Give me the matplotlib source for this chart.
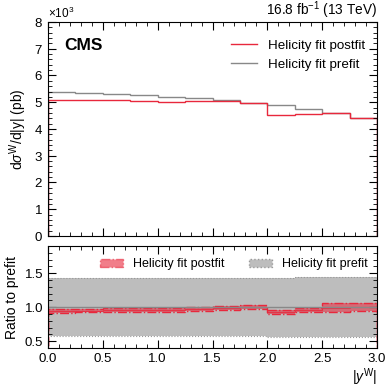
import numpy as np
import matplotlib
matplotlib.use('Agg')
from matplotlib import pyplot as plt
from matplotlib import ticker
from matplotlib.patches import Patch

plt.rcParams['font.family'] = ['Liberation Sans', 'DejaVu Sans']
plt.rcParams['mathtext.fontset'] = 'custom'
plt.rcParams['mathtext.rm'] = 'Liberation Sans'
plt.rcParams['mathtext.it'] = 'Liberation Sans:italic'

# bin edges in |y^W|
edges = np.arange(0, 3.01, 0.25)

# cross sections in pb
prefit = [5390, 5350, 5310, 5260, 5200, 5140, 5070, 4975, 4886, 4760, 4610, 4420]
postfit = [5090, 5090, 5090, 5040, 5000, 5040, 5030, 4960, 4540, 4550, 4590, 4410]

# relative uncertainties
prefit_unc = [0.43, 0.43, 0.43, 0.43, 0.43, 0.43, 0.43, 0.43, 0.435, 0.44, 0.445, 0.445]
postfit_unc = [0.03, 0.03, 0.03, 0.03, 0.03, 0.03, 0.03, 0.03, 0.035, 0.035, 0.06, 0.06]

red = '#e8283c'
grey = '#888888'

prefit = np.array(prefit)
postfit = np.array(postfit)
ratio = postfit / prefit

fig = plt.figure(figsize=(3.91, 3.88), dpi=100)
ax = fig.add_axes([0.1228, 0.3918, 0.8415, 0.5515])
rax = fig.add_axes([0.1228, 0.103, 0.8415, 0.263])

# top panel
ax.stairs(prefit, edges, baseline=0, color=grey, lw=1.0, label='Helicity fit prefit')
ax.stairs(postfit, edges, baseline=0, color=red, lw=1.0, label='Helicity fit postfit')
ax.set_xlim(0, 3)
ax.set_ylim(0, 8000)
ax.yaxis.set_major_locator(ticker.MultipleLocator(1000))
ax.yaxis.set_minor_locator(ticker.MultipleLocator(200))
fmt = ticker.ScalarFormatter(useMathText=True)
fmt.set_powerlimits((0, 0))
ax.yaxis.set_major_formatter(fmt)
ax.yaxis.get_offset_text().set_fontsize(8.5)
ax.set_xticklabels([])
ax.set_ylabel(r'd$\sigma^{\mathrm{W}}$/d|y| (pb)', fontsize=10)
h, l = ax.get_legend_handles_labels()
ax.legend(h[::-1], l[::-1], loc='upper right', frameon=False, fontsize=9.6,
          handlelength=2.0, bbox_to_anchor=(1.0, 0.975))
ax.text(0.05, 0.89, 'CMS', transform=ax.transAxes, fontsize=12.5, fontweight='bold',
        va='center')
ax.text(1.0, 1.005, r'16.8 fb$^{-1}$ (13 TeV)', transform=ax.transAxes, ha='right',
        va='bottom', fontsize=9.8)

# ratio panel
rax.stairs(1 + np.array(prefit_unc), edges, baseline=1 - np.array(prefit_unc),
           fill=True, color='#bdbdbd', lw=0)
rax.stairs(1 + np.array(prefit_unc), edges, color='#999999', lw=0.8, ls=':')
rax.stairs(1 - np.array(prefit_unc), edges, color='#999999', lw=0.8, ls=':')
rax.axhline(1.0, color=grey, lw=1.0)
rax.stairs(ratio * (1 + np.array(postfit_unc)), edges,
           baseline=ratio * (1 - np.array(postfit_unc)),
           fill=True, color=red, alpha=0.55, lw=0)
rax.stairs(ratio * (1 + np.array(postfit_unc)), edges, color=red, lw=1.0, ls='-.')
rax.stairs(ratio * (1 - np.array(postfit_unc)), edges, color=red, lw=1.0, ls='-.')
rax.stairs(ratio, edges, color=red, lw=0.8, alpha=0.8)

rax.set_xlim(0, 3)
rax.set_ylim(0.4, 1.9)
rax.yaxis.set_major_locator(ticker.MultipleLocator(0.5))
rax.yaxis.set_minor_locator(ticker.MultipleLocator(0.1))
rax.yaxis.set_major_formatter(ticker.FormatStrFormatter('%.1f'))
rax.xaxis.set_major_formatter(ticker.FormatStrFormatter('%.1f'))
rax.set_ylabel('Ratio to prefit', fontsize=10)
rax.set_xlabel(r'|$y^{\mathrm{W}}$|', fontsize=10, loc='right', labelpad=1)

post_handle = Patch(facecolor=red, alpha=0.6, edgecolor=red, ls='-.')
pre_handle = Patch(facecolor='#bdbdbd', edgecolor='#999999', ls=':')
rax.legend([post_handle, pre_handle], ['Helicity fit postfit', 'Helicity fit prefit'],
           loc='upper center', ncol=2, frameon=False, fontsize=9,
           bbox_to_anchor=(0.565, 0.99), columnspacing=2.0, handlelength=1.8)

for a in (ax, rax):
    a.xaxis.set_major_locator(ticker.MultipleLocator(0.5))
    a.xaxis.set_minor_locator(ticker.MultipleLocator(0.1))
    a.tick_params(which='both', direction='in', top=True, right=True, labelsize=9.5)
    a.tick_params(which='major', length=6)
    a.tick_params(which='minor', length=3)

fig.savefig('out.png', dpi=100)
